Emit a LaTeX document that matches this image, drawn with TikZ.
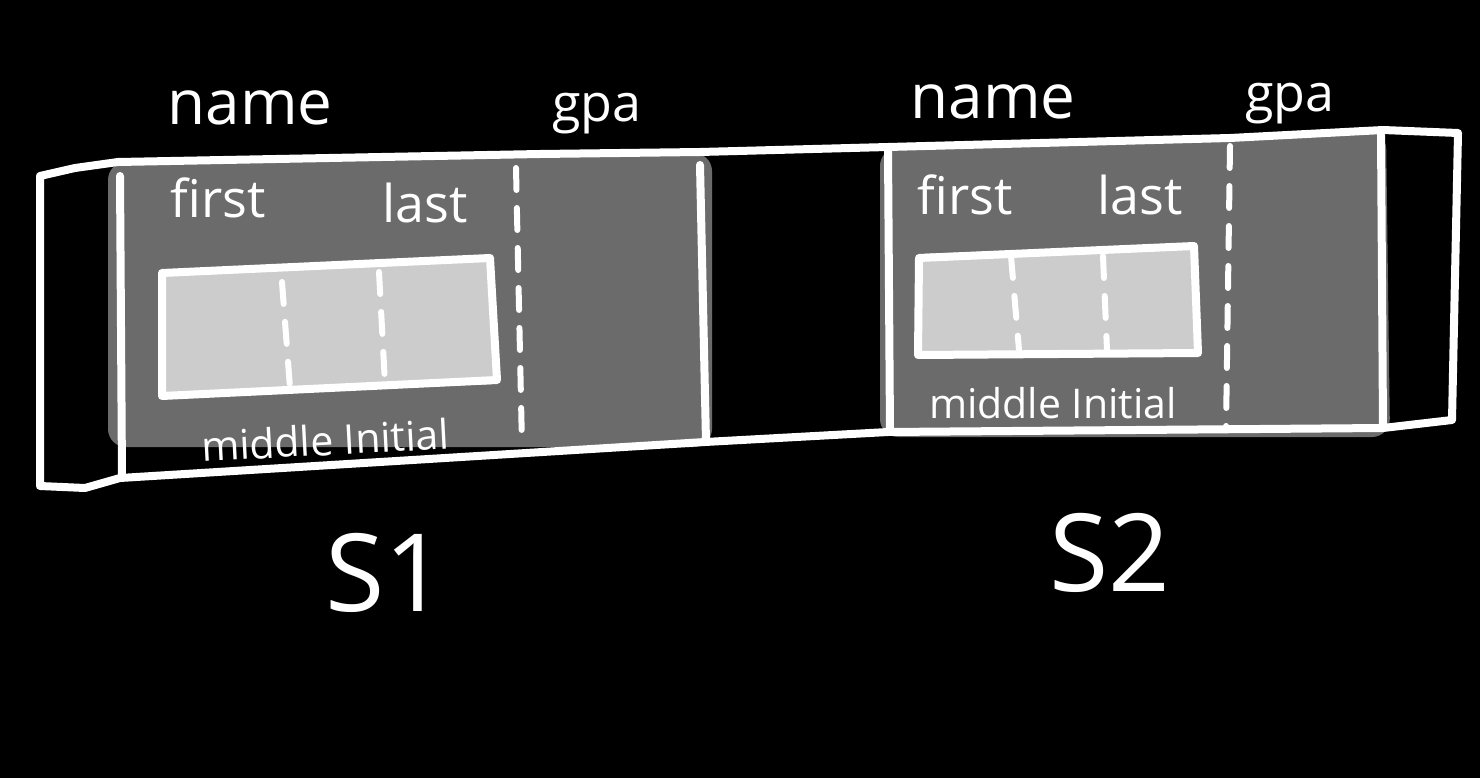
\documentclass[tikz,border=0pt]{standalone}
\usepackage{fontspec}
\setmainfont{Open Sans}
\definecolor{midgray}{HTML}{6B6B6B}
\definecolor{lightgray2}{HTML}{CCCCCC}
\tikzset{
  pen/.style={draw=white, line width=8pt, line join=round, line cap=round},
  dashpen/.style={draw=white, line width=6pt, line cap=round, dash pattern=on 22pt off 18pt},
  lbl/.style={text=white, inner sep=0pt, font=\fontsize{52}{60}\selectfont},
  biglbl/.style={text=white, inner sep=0pt, font=\fontsize{62}{70}\selectfont},
  smalllbl/.style={text=white, inner sep=0pt, font=\fontsize{41}{48}\selectfont},
  huge/.style={text=white, inner sep=0pt, font=\fontsize{108}{120}\selectfont},
}
\begin{document}
\begin{tikzpicture}[x=1pt,y=-1pt]
\fill[black] (0,0) rectangle (1480,778);
\useasboundingbox (0,0) rectangle (1480,778);

% gray panels
\fill[midgray, rounded corners=18pt] (108,162) -- (712,153) -- (712,447) -- (108,447) -- cycle;
\fill[midgray, rounded corners=18pt] (880,148) -- (1386,131) -- (1390,437) -- (880,437) -- cycle;
% light inner boxes
\fill[lightgray2, rounded corners=10pt] (158,270) -- (490,256) -- (500,384) -- (158,396) -- cycle;
\fill[lightgray2, rounded corners=10pt] (916,254) -- (1196,244) -- (1200,354) -- (916,356) -- cycle;

% outer band
\draw[pen] (40,176) -- (75,168) -- (118,162) -- (540,154) -- (700,152) -- (888,147) -- (1230,138) -- (1383,130) -- (1458,133)
  -- (1452,420) -- (1383,428) -- (888,432) -- (705,442) -- (120,478) -- (85,488) -- (40,486) -- cycle;
% vertical dividers
\draw[pen] (120,176) -- (122,478);
\draw[pen] (700,165) -- (706,442);
\draw[pen] (888,150) -- (890,432);
\draw[pen] (1381,135) -- (1383,428);

% inner boxes
\draw[pen] (162,273) -- (490,258) -- (497,380) -- (162,396) -- cycle;
\draw[pen] (919,258) -- (1194,246) -- (1198,353) -- (918,355) -- cycle;
% dashed separators inside inner boxes
\draw[dashpen] (282,282) -- (290,388);
\draw[dashpen] (379,272) -- (385,384);
\draw[dashpen] (1011,256) -- (1019,350);
\draw[dashpen] (1103,256) -- (1107,350);
% gpa separators
\draw[dashpen] (516,168) -- (522,446);
\draw[dashpen] (1230,146) -- (1226,430);

% labels
\node[biglbl] (name1) at (250,108) {name};
\node[lbl] (gpa1) at (597,114) {gpa};
\node[lbl] (first1) at (218,198) {first};
\node[lbl] (last1) at (425,203) {last};
\node[smalllbl, rotate=3] (mid1) at (325,440) {middle Initial};
\node[huge] (s1) at (386,573) {S1};

\node[biglbl] (name2) at (993,102) {name};
\node[lbl] (gpa2) at (1290,104) {gpa};
\node[lbl] (first2) at (965,195) {first};
\node[lbl] (last2) at (1140,195) {last};
\node[smalllbl] (mid2) at (1053,403) {middle Initial};
\node[huge] (s2) at (1110,553) {S2};
\end{tikzpicture}
\end{document}
